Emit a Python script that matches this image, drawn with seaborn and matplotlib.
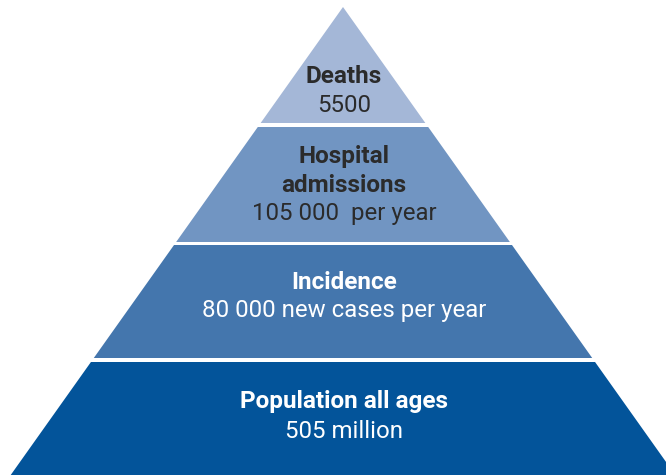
import matplotlib
matplotlib.use("Agg")
import matplotlib.pyplot as plt
from matplotlib.patches import Polygon
import seaborn as sns

# Tiers of the burden pyramid, top to bottom
tiers = ["Deaths", "Hospital\nadmissions", "Incidence", "Population all ages"]
values = ["5500", "105 000  per year", "80 000 new cases per year", "505 million"]

sns.set_theme(style="white")
plt.rcParams["font.family"] = ["Roboto", "DejaVu Sans"]

tier_colors = sns.color_palette(["#A4B7D7", "#7195C2", "#4476AD", "#03549A"])
text_colors = ["#2B2B2B", "#2B2B2B", "#FFFFFF", "#FFFFFF"]

fig = plt.figure(figsize=(6.66, 4.75), dpi=100)
ax = fig.add_axes([0, 0, 1, 1])
ax.set_xlim(0, 666)
ax.set_ylim(475, 0)
ax.axis("off")

# Pyramid geometry (pixel-like units)
apex_x, apex_y = 343, 7
slope = 0.71
bands = [(7, 123), (127, 242), (245, 358), (362, 480)]
title_baseline = [83, 163, 289, 408]
value_baseline = [112, 220, 317, 438]
line_step = 29
text_x = 344


def half_width(y):
    return slope * (y - apex_y)


for i, (top, bottom) in enumerate(bands):
    pts = [
        (apex_x - half_width(top), top),
        (apex_x + half_width(top), top),
        (apex_x + half_width(bottom), bottom),
        (apex_x - half_width(bottom), bottom),
    ]
    ax.add_patch(Polygon(pts, closed=True, facecolor=tier_colors[i],
                         edgecolor="none"))
    for k, line in enumerate(tiers[i].split("\n")):
        ax.text(text_x, title_baseline[i] + k * line_step, line,
                ha="center", va="baseline", fontsize=17.5,
                fontweight="bold", color=text_colors[i])
    ax.text(text_x, value_baseline[i], values[i], ha="center",
            va="baseline", fontsize=17.3, color=text_colors[i])

fig.savefig("out.png", dpi=100)
